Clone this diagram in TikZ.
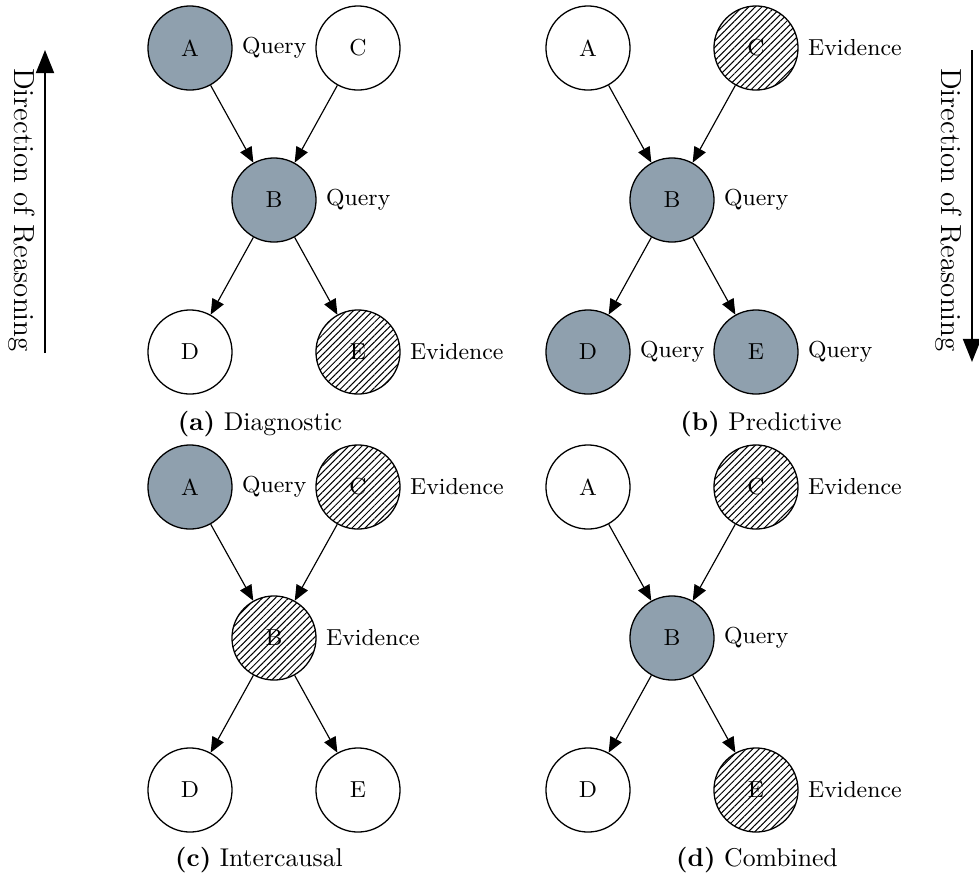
\documentclass[tikz,border=0pt]{standalone}
\usetikzlibrary{arrows.meta,patterns.meta}
\definecolor{querygray}{RGB}{143,160,174}
\begin{document}
\begin{tikzpicture}[x=0.389pt,y=-0.389pt,
  var/.style={circle,draw,line width=0.5pt,minimum size=32.7pt,inner sep=0pt,font=\small},
  query/.style={var,fill=querygray},
  evid/.style={var,pattern={Lines[angle=45,distance=1.8pt,line width=0.4pt]}},
  plain/.style={var,fill=white},
  tag/.style={anchor=west,font=\small,inner sep=0pt,xshift=3.5pt},
  link/.style={-{Triangle[length=6pt,width=5pt]},line width=0.45pt},
  dirarrow/.style={-{Triangle[length=9pt,width=7pt]},line width=0.8pt},
  dirtext/.style={rotate=-90,font=\fontsize{11.3}{13}\selectfont},
  subcap/.style={font=\normalsize}]
\useasboundingbox (0,0) rectangle (979,880);

% (a) Diagnostic
\node[query] (aA) at (190,48) {A};
\node[plain] (aC) at (358,48) {C};
\node[query] (aB) at (274,200) {B};
\node[plain] (aD) at (190,352) {D};
\node[evid]  (aE) at (358,352) {E};
\node[tag] at (aA.east) {Query};
\node[tag] at (aB.east) {Query};
\node[tag] at (aE.east) {Evidence};
\draw[link] (aA) -- (aB);
\draw[link] (aC) -- (aB);
\draw[link] (aB) -- (aD);
\draw[link] (aB) -- (aE);
\node[subcap] (capa) at (260,424) {\textbf{(a)} Diagnostic};

% (b) Predictive
\node[plain] (bA) at (588,48) {A};
\node[evid]  (bC) at (756,48) {C};
\node[query] (bB) at (672,200) {B};
\node[query] (bD) at (588,352) {D};
\node[query] (bE) at (756,352) {E};
\node[tag] at (bC.east) {Evidence};
\node[tag] at (bB.east) {Query};
\node[tag] at (bD.east) {Query};
\node[tag] at (bE.east) {Query};
\draw[link] (bA) -- (bB);
\draw[link] (bC) -- (bB);
\draw[link] (bB) -- (bD);
\draw[link] (bB) -- (bE);
\node[subcap] (capb) at (761,424) {\textbf{(b)} Predictive};

% (c) Intercausal
\node[query] (cA) at (190,487) {A};
\node[evid]  (cC) at (358,487) {C};
\node[evid]  (cB) at (274,638) {B};
\node[plain] (cD) at (190,790) {D};
\node[plain] (cE) at (358,790) {E};
\node[tag] at (cA.east) {Query};
\node[tag] at (cC.east) {Evidence};
\node[tag] at (cB.east) {Evidence};
\draw[link] (cA) -- (cB);
\draw[link] (cC) -- (cB);
\draw[link] (cB) -- (cD);
\draw[link] (cB) -- (cE);
\node[subcap] (capc) at (259,860) {\textbf{(c)} Intercausal};

% (d) Combined
\node[plain] (dA) at (588,487) {A};
\node[evid]  (dC) at (756,487) {C};
\node[query] (dB) at (672,638) {B};
\node[plain] (dD) at (588,790) {D};
\node[evid]  (dE) at (756,790) {E};
\node[tag] at (dC.east) {Evidence};
\node[tag] at (dB.east) {Query};
\node[tag] at (dE.east) {Evidence};
\draw[link] (dA) -- (dB);
\draw[link] (dC) -- (dB);
\draw[link] (dB) -- (dD);
\draw[link] (dB) -- (dE);
\node[subcap] (capd) at (757,860) {\textbf{(d)} Combined};

% reasoning direction, upward on the left and downward on the right
\coordinate (lt) at (45,353);
\coordinate (lh) at (45,50);
\draw[dirarrow] (lt) -- (lh);
\node[dirtext] (ltext) at (22,210) {Direction of Reasoning};
\coordinate (rt) at (972,50);
\coordinate (rh) at (972,362);
\draw[dirarrow] (rt) -- (rh);
\node[dirtext] (rtext) at (949,210) {Direction of Reasoning};
\end{tikzpicture}
\end{document}
